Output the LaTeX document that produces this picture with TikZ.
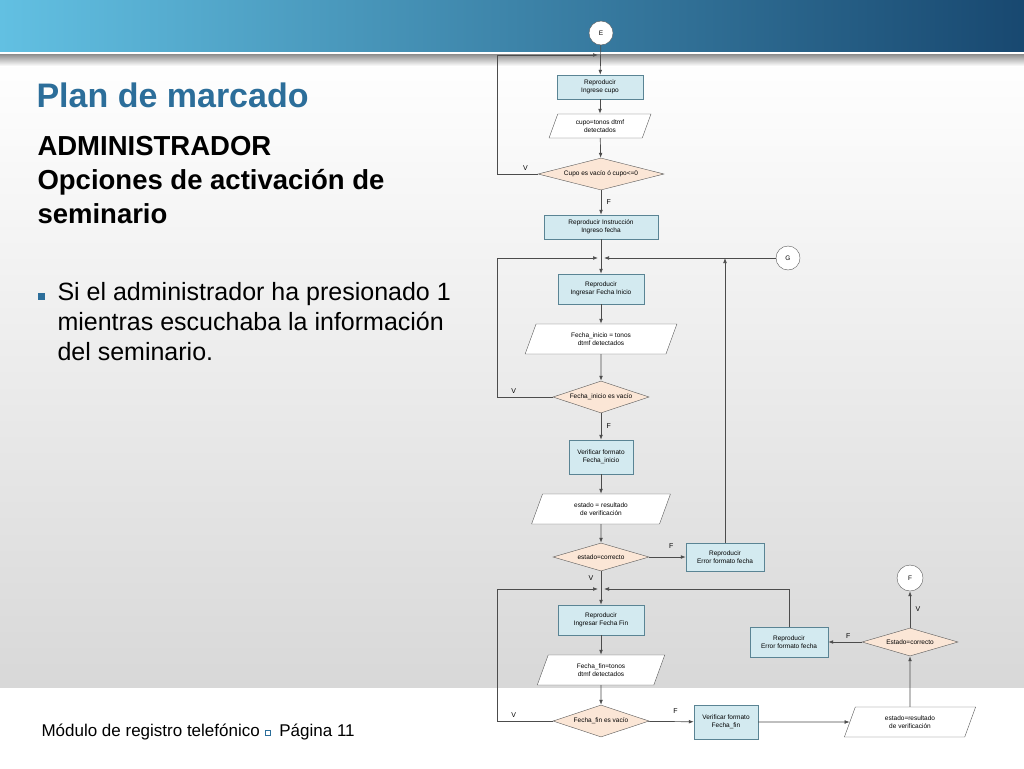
\documentclass[tikz,border=0pt]{standalone}
\usepackage{fontspec}
\setmainfont{Liberation Sans}
\usetikzlibrary{arrows.meta, shapes.geometric}
\definecolor{procfill}{HTML}{D3EAF0}
\definecolor{procline}{HTML}{5A8494}
\definecolor{decfill}{HTML}{FBE6D6}
\definecolor{titleblue}{HTML}{2C6E9A}
\begin{document}
\begin{tikzpicture}[
    x=1pt, y=-1pt,
    proc/.style={rectangle, draw=procline, fill=procfill, align=center,
        minimum width=86pt, minimum height=24pt, inner sep=1pt},
    io/.style={trapezium, trapezium left angle=70, trapezium right angle=110,
        draw=gray!70!black, fill=white, align=center, minimum width=70pt,
        minimum height=24pt, inner sep=1pt},
    dec/.style={diamond, aspect=3.5, draw=gray!70!black, fill=decfill,
        align=center, inner sep=0pt, minimum width=96pt, minimum height=32pt},
    conn/.style={circle, draw=gray!70!black, fill=white, minimum size=24pt, inner sep=0pt},
    line/.style={draw=gray!60!black, line width=0.7pt},
    >={Latex[length=5pt]},
    lbl/.style={font=\fontsize{7}{8}\selectfont},
    every node/.style={font=\fontsize{6.5}{7.5}\selectfont}
]
% background
\useasboundingbox (0,0) rectangle (1024,768);
\shade[left color={rgb,255:red,98;green,192;blue,226}, right color={rgb,255:red,24;green,72;blue,112}]
    (0,0) rectangle (1024,52);
\fill[white] (0,52) rectangle (1024,56);
\shade[top color=white, bottom color={rgb,255:red,216;green,216;blue,216}] (0,56) rectangle (1024,688);
\shade[top color={rgb,255:red,150;green,150;blue,150}, bottom color=white] (0,55) rectangle (1024,66);
\fill[white] (0,688) rectangle (1024,768);

% slide text
\node[anchor=west, text=titleblue, font=\fontsize{34}{36}\selectfont\bfseries] (title) at (33,95) {Plan de marcado};
\node[anchor=north west, align=left, font=\fontsize{27.5}{34}\selectfont\bfseries] (sub) at (34,133)
    {ADMINISTRADOR\\Opciones de activación de\\seminario};
\node[anchor=north west, align=left, font=\fontsize{25}{30}\selectfont] (bullet) at (54,279)
    {Si el administrador ha presionado 1\\mientras escuchaba la información\\del seminario.};
\node[fill=titleblue, minimum size=7pt, inner sep=0pt] (dot) at (41,296) {};
\node[anchor=west, font=\fontsize{17}{19}\selectfont] (foot) at (38,732)
    {Módulo de registro telefónico \raisebox{1pt}{\tikz\draw[titleblue] (0,0) rectangle (5pt,5pt);}\ \ Página 11};

% flowchart
\node[conn] (e) at (601,33) {E};
\node[proc] (cupo) at (600,87) {Reproducir\\Ingrese cupo};
\node[io] (dtmf1) at (600,126) {cupo=tonos dtmf\\detectados};
\node[dec, minimum width=126pt] (d1) at (601,174) {Cupo es vacío ó cupo<=0};
\node[proc, minimum width=114pt] (instr) at (601,227) {Reproducir Instrucción\\Ingreso fecha};
\coordinate (j1) at (601,258);
\node[conn] (g) at (788,258) {G};
\node[proc, minimum height=30pt] (ini) at (601,289) {Reproducir\\Ingresar Fecha Inicio};
\node[io, minimum height=30pt, minimum width=100pt] (dtmf2) at (601,339) {Fecha\_inicio = tonos\\dtmf detectados};
\node[dec] (d2) at (601,397) {Fecha\_inicio es vacío};
\node[proc, minimum width=64pt, minimum height=34pt] (ver1) at (601,457) {Verificar formato\\Fecha\_inicio};
\node[io, minimum height=30pt, minimum width=86pt] (res1) at (601,509) {estado = resultado\\de verificación};
\node[dec, minimum height=28pt] (d3) at (601,557) {estado=correcto};
\node[proc, minimum width=78pt, minimum height=28pt] (err1) at (725,557) {Reproducir\\Error formato fecha};
\coordinate (j2) at (601,589);
\node[proc, minimum height=30pt] (fin) at (601,620) {Reproducir\\Ingresar Fecha Fin};
\node[io, minimum height=30pt, minimum width=86pt] (dtmf3) at (601,670) {Fecha\_fin=tonos\\dtmf detectados};
\node[dec] (d4) at (601,721) {Fecha\_fin es vacío};
\node[proc, minimum width=64pt, minimum height=34pt] (ver2) at (726,722) {Verificar formato\\Fecha\_fin};
\node[io, minimum height=30pt, minimum width=78pt] (res2) at (910,722) {estado=resultado\\de verificación};
\node[dec, minimum height=28pt] (d5) at (910,642) {Estado=correcto};
\node[proc, minimum width=78pt, minimum height=30pt] (err2) at (789,642) {Reproducir\\Error formato fecha};
\node[conn, minimum size=26pt] (f) at (910,578) {F};

\draw[line, ->] (e) -- (cupo);
\draw[line, ->] (cupo) -- (dtmf1);
\draw[line, ->] (dtmf1) -- (d1);
\draw[line, ->] (d1) -- node[lbl, right=2pt] {F} (instr);
\draw[line, ->] (d1.west) -- node[lbl, above, pos=0.3] {V} (497,174) -- (497,55) -- (598,55);
\draw[line, ->] (instr) -- (ini);
\draw[line, ->] (g) -- (604,258);
\draw[line, ->] (ini) -- (dtmf2);
\draw[line, ->] (dtmf2) -- (d2);
\draw[line, ->] (d2.west) -- node[lbl, above, pos=0.7] {V} (497,397) -- (497,258) -- (598,258);
\draw[line, ->] (d2) -- node[lbl, right=2pt] {F} (ver1);
\draw[line, ->] (ver1) -- (res1);
\draw[line, ->] (res1) -- (d3);
\draw[line, ->] (d3) -- node[lbl, above=5pt, pos=0.6] {F} (err1);
\draw[line, ->] (err1.north) -- (725,258);
\draw[line, ->] (d3) -- node[lbl, left=4pt, pos=0.2] {V} (fin);
\draw[line, ->] (err2.north) -- (789,589) -- (604,589);
\draw[line, ->] (fin) -- (dtmf3);
\draw[line, ->] (dtmf3) -- (d4);
\draw[line, ->] (d4.west) -- node[lbl, above, pos=0.7] {V} (497,721) -- (497,589) -- (598,589);
\draw[line, ->] (d4) -- node[lbl, above=4pt, pos=0.6] {F} (ver2);
\draw[line, ->] (ver2) -- (res2);
\draw[line, ->] (res2) -- (d5);
\draw[line, ->] (d5) -- node[lbl, above, pos=0.4] {F} (err2);
\draw[line, ->] (d5) -- node[lbl, right=2pt] {V} (f);
\end{tikzpicture}
\end{document}
